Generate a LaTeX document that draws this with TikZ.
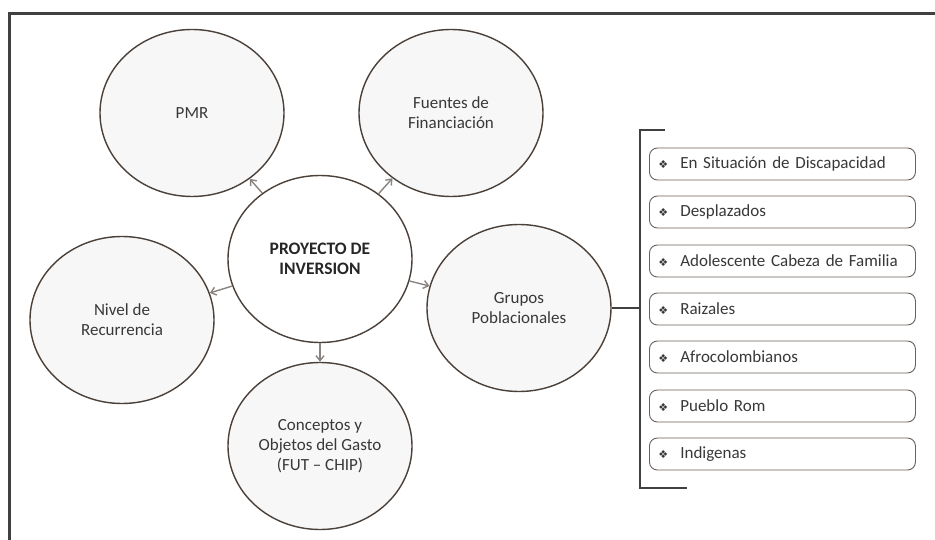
\documentclass[tikz,border=0pt]{standalone}
\usepackage{fontspec}
\setmainfont{Carlito}
\newfontfamily\symfont{DejaVu Sans}
\usetikzlibrary{shapes.geometric,arrows.meta}
\definecolor{framec}{HTML}{404040}
\definecolor{ringc}{HTML}{4A403A}
\definecolor{txtc}{HTML}{383838}
\definecolor{boxc}{HTML}{6B605A}
\definecolor{arrc}{HTML}{8A8480}
\tikzset{
  bubble/.style={ellipse, draw=ringc, line width=1.4pt, fill=black!3,
    minimum width=184pt, minimum height=167pt, inner sep=0pt,
    align=center, font=\fontsize{17}{20}\selectfont, text=txtc},
  hub/.style={bubble, fill=white, font=\fontsize{17.5}{20}\selectfont\bfseries, text=black!85},
  spoke/.style={draw=arrc, line width=1.4pt, -{Straight Barb[length=5pt,width=8pt]}},
  item/.style={rectangle, rounded corners=8pt, draw=boxc, line width=0.9pt, fill=white,
    minimum width=266pt, minimum height=32pt, text width=248pt, inner xsep=9pt,
    align=left, font=\fontsize{17}{18}\selectfont, text=txtc, anchor=west},
  brace/.style={draw=framec, line width=1.8pt}
}
\newcommand{\bul}{{\symfont\fontsize{11}{11}\selectfont ❖}\hspace{12pt}}
\begin{document}
\begin{tikzpicture}[x=1pt,y=-1pt]
\useasboundingbox (0,0) rectangle (935,540);
\fill[white] (0,0) rectangle (935,540);
\draw[framec, line width=3pt] (9.5,545) -- (9.5,13.5) -- (940,13.5);

\node[hub]    (hub)  at (320,259) {PROYECTO DE\\INVERSION};
\node[bubble] (pmr)  at (192,113) {PMR};
\node[bubble] (fue)  at (451,113) {Fuentes de\\Financiación};
\node[bubble] (niv)  at (122,320) {Nivel de\\Recurrencia};
\node[bubble] (gru)  at (519,308) {Grupos\\Poblacionales};
\node[bubble] (con)  at (320,446) {Conceptos y\\Objetos del Gasto\\(FUT -- CHIP)};

\draw[spoke] (hub) -- (pmr);
\draw[spoke] (hub) -- (fue);
\draw[spoke] (hub) -- (niv);
\draw[spoke] (hub) -- (gru);
\draw[spoke] (hub) -- (con);

\coordinate (bj) at (640,308);
\coordinate (bt0) at (640,130);
\coordinate (bt1) at (665,130);
\coordinate (bb0) at (640,488);
\coordinate (bb1) at (687,488);
\draw[brace] (gru.east) -- (bj);
\draw[brace] (bt1) -- (bt0) -- (bb0) -- (bb1);

\node[item] (i1) at (649,164) {\bul En Situación de Discapacidad};
\node[item] (i2) at (649,212) {\bul Desplazados};
\node[item] (i3) at (649,261) {\bul Adolescente Cabeza de Familia};
\node[item] (i4) at (649,309) {\bul Raizales};
\node[item] (i5) at (649,357) {\bul Afrocolombianos};
\node[item] (i6) at (649,406) {\bul Pueblo Rom};
\node[item] (i7) at (649,454) {\bul Indigenas};
\end{tikzpicture}
\end{document}
